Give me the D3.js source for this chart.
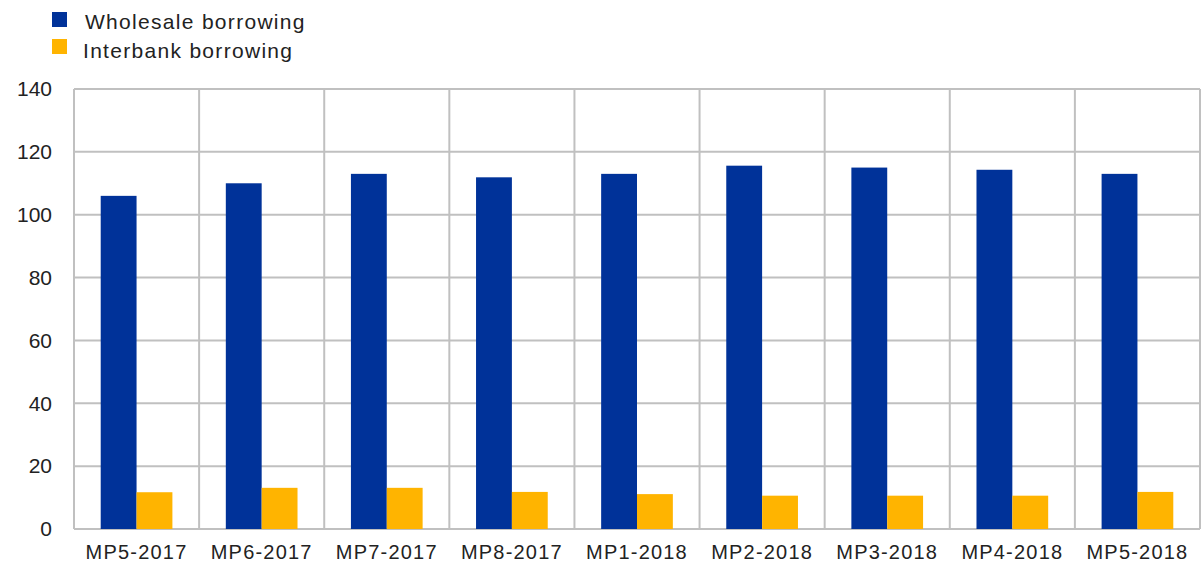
<!DOCTYPE html>
<html>
<head>
<meta charset="utf-8">
<script src="https://cdn.jsdelivr.net/npm/d3@7"></script>
<style>
    body { margin: 0; background: #fff; }
    text { font-family: "Liberation Sans", Arial, sans-serif; fill: #222; }
</style>
</head>
<body>
<div id="chart"></div>
<script>
// Chart data
const periods = ["MP5-2017", "MP6-2017", "MP7-2017", "MP8-2017", "MP1-2018",
    "MP2-2018", "MP3-2018", "MP4-2018", "MP5-2018"];
const wholesale = [106, 110, 113, 111.9, 113, 115.6, 115, 114.3, 113];
const interbank = [11.7, 13.1, 13.1, 11.8, 11.1, 10.6, 10.6, 10.6, 11.8];
const seriesNames = ["Wholesale borrowing", "Interbank borrowing"];
const colors = ["#003299", "#ffb400"];
const yTicks = [0, 20, 40, 60, 80, 100, 120, 140];

const W = 1202, H = 568;
const margin = { top: 89, right: 2, bottom: 39, left: 74 };
const width = W - margin.left - margin.right,
    height = H - margin.top - margin.bottom;

const svg = d3.select("#chart").append("svg")
    .attr("width", W).attr("height", H);

const g = svg.append("g")
    .attr("transform", `translate(${margin.left},${margin.top})`);

const x = d3.scaleBand().domain(periods).range([0, width]);
const xInner = d3.scaleBand().domain(seriesNames)
    .range([0, x.bandwidth()]).paddingOuter(0.745).paddingInner(0);
const y = d3.scaleLinear().domain([0, 140]).range([height, 0]);

// horizontal grid
g.selectAll(".hgrid").data(yTicks).join("line")
    .attr("x1", 0).attr("x2", width)
    .attr("y1", d => y(d)).attr("y2", d => y(d))
    .attr("stroke", "#c0c0c0").attr("stroke-width", 2);

// vertical grid between categories
const vx = periods.map(p => x(p)).concat([width]);
g.selectAll(".vgrid").data(vx).join("line")
    .attr("x1", d => d).attr("x2", d => d)
    .attr("y1", 0).attr("y2", height)
    .attr("stroke", "#c0c0c0").attr("stroke-width", 2);

// bars
const rows = periods.map((p, i) => ({ period: p, values: [wholesale[i], interbank[i]] }));
const groups = g.selectAll(".grp").data(rows).join("g")
    .attr("transform", d => `translate(${x(d.period)},0)`);
groups.selectAll("rect")
    .data(d => d.values.map((v, k) => ({ key: seriesNames[k], v, k })))
    .join("rect")
    .attr("x", d => xInner(d.key))
    .attr("width", xInner.bandwidth())
    .attr("y", d => y(d.v))
    .attr("height", d => height - y(d.v))
    .attr("fill", d => colors[d.k]);

// y axis labels
const yAxis = g.append("g")
    .attr("transform", "translate(-22,0)")
    .call(d3.axisLeft(y).tickValues(yTicks).tickSize(0).tickPadding(0));
yAxis.select(".domain").remove();
yAxis.selectAll("text").attr("font-size", 21).style("font-family", "Liberation Sans, Arial, sans-serif").attr("fill", "#222");

// x axis labels
const xAxis = g.append("g")
    .attr("transform", `translate(0,${height + 14})`)
    .call(d3.axisBottom(x).tickSize(0).tickPadding(0));
xAxis.select(".domain").remove();
xAxis.selectAll("text").attr("font-size", 20).attr("dy", "0.8em")
    .attr("letter-spacing", 1.2)
    .style("font-family", "Liberation Sans, Arial, sans-serif").attr("fill", "#222");

// legend
const legend = svg.append("g").attr("transform", "translate(52,12)");
seriesNames.forEach((name, i) => {
    legend.append("rect").attr("y", i * 27).attr("width", 15).attr("height", 15)
        .attr("fill", colors[i]);
    legend.append("text").attr("x", 33 - (i ? 2 : 0)).attr("y", 9 + i * 29.5)
        .attr("dy", "0.36em").attr("font-size", 21).attr("letter-spacing", 1.3)
        .text(name);
});
</script>
</body>
</html>
